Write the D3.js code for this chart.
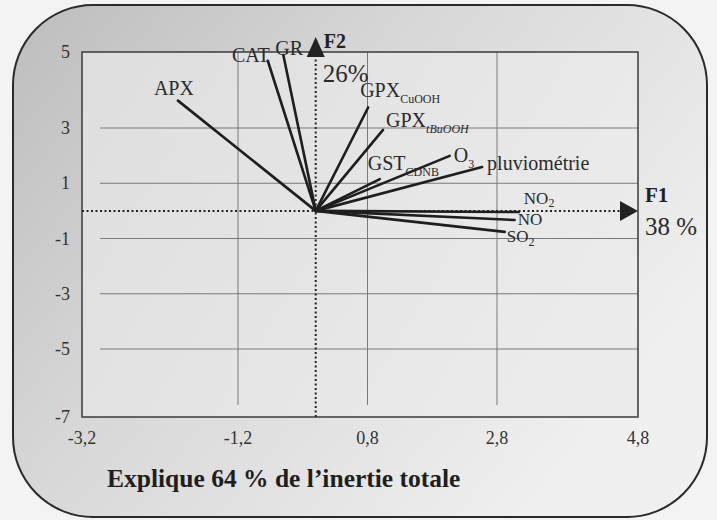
<!DOCTYPE html>
<html lang="fr">
<head>
<meta charset="utf-8">
<title>ACP – cercle des variables F1 × F2</title>
<script src="https://cdn.jsdelivr.net/npm/d3@7"></script>
<style>
  html, body { margin: 0; padding: 0; background: #f3f3f3; }
  svg { display: block; }
  svg text { font-family: "Liberation Serif", "DejaVu Serif", serif; }
</style>
</head>
<body>
<svg id="chart" width="717" height="520"></svg>
<script>
// Variables projected on the first factorial plane (F1, F2)
const variables = ["APX", "CAT", "GR", "GPX_CuOOH", "GPX_tBuOOH", "GST_CDNB", "O3", "pluviométrie", "NO2", "NO", "SO2"];
const coordF1 = [-1.97, -0.74, -0.50, 0.81, 1.04, 0.99, 2.07, 2.57, 3.11, 3.05, 2.91];
const coordF2 = [ 3.72,  4.77,  4.92, 3.54, 2.93, 1.15, 1.99, 1.59, -0.04, -0.33, -0.76];

// Label text: main part and subscript
const labelMain = ["APX", "CAT", "GR", "GPX", "GPX", "GST", "O", "pluviométrie", "NO", "NO", "SO"];
const labelSub  = ["", "", "", "CuOOH", "tBuOOH", "CDNB", "3", "", "2", "", "2"];

// Axis ticks
const xTicks = [-3.2, -1.2, 0.8, 2.8, 4.8];
const yTicks = [5, 3, 1, -1, -3, -5, -7];

// Axis titles
const axisF1 = { name: "F1", share: "38 %" };
const axisF2 = { name: "F2", share: "26%" };
const caption = "Explique 64 % de l\u2019inertie totale";

const svg = d3.select("#chart");
// French decimal comma, plain hyphen for negatives
const fmtX = v => (v < 0 ? "-" : "") + d3.format(".1f")(Math.abs(v)).replace(".", ",");
const fmtY = v => (v < 0 ? "-" : "") + Math.abs(v);

// The outer bands of the frame are slightly wider than the inner grid cells
const x = d3.scaleLinear().domain([-3.2, -1.2, 2.8, 4.8]).range([82, 238, 497, 638]);
const y = d3.scaleLinear().domain([-7, -5, 3, 5]).range([417, 349, 128, 52]);

// Background panel with rounded corners
const defs = svg.append("defs");
const g1 = defs.append("linearGradient").attr("id", "panelFill")
  .attr("x1", 0).attr("y1", 0).attr("x2", 1).attr("y2", 0.6);
g1.append("stop").attr("offset", "0%").attr("stop-color", "#bdbdbd");
g1.append("stop").attr("offset", "45%").attr("stop-color", "#d8d8d8");
g1.append("stop").attr("offset", "100%").attr("stop-color", "#f0f0f0");
const g2 = defs.append("linearGradient").attr("id", "plotFill")
  .attr("x1", 0).attr("y1", 0).attr("x2", 1).attr("y2", 0.4);
g2.append("stop").attr("offset", "0%").attr("stop-color", "#dedede");
g2.append("stop").attr("offset", "100%").attr("stop-color", "#ebebeb");

svg.append("rect")
  .attr("x", 13).attr("y", 5).attr("width", 694).attr("height", 512)
  .attr("rx", 80).attr("ry", 80)
  .attr("fill", "url(#panelFill)")
  .attr("stroke", "#2a2a2a").attr("stroke-width", 2);

// Plot area
const [x0, x1] = [x(xTicks[0]), x(xTicks[xTicks.length - 1])];
const [yTop, yBot] = [y(yTicks[0]), y(yTicks[yTicks.length - 1])];

svg.append("rect")
  .attr("x", x0).attr("y", yTop).attr("width", x1 - x0).attr("height", yBot - yTop)
  .attr("fill", "url(#plotFill)");

// Grid lines
const grid = svg.append("g").attr("stroke", "#7a7a7a").attr("stroke-width", 1);
grid.selectAll("line.gx").data(xTicks.slice(1, -1)).join("line")
  .attr("class", "gx")
  .attr("x1", d => x(d)).attr("x2", d => x(d))
  .attr("y1", yTop).attr("y2", yBot - 12);
grid.selectAll("line.gy").data(yTicks.slice(1, -1)).join("line")
  .attr("class", "gy")
  .attr("x1", x0 + 18).attr("x2", x1)
  .attr("y1", d => y(d)).attr("y2", d => y(d));

svg.append("rect")
  .attr("x", x0).attr("y", yTop).attr("width", x1 - x0).attr("height", yBot - yTop)
  .attr("fill", "none").attr("stroke", "#3a3a3a").attr("stroke-width", 1.5);

// Tick labels
svg.append("g").selectAll("text").data(xTicks).join("text")
  .attr("x", d => x(d)).attr("y", yBot + 27)
  .attr("text-anchor", "middle")
  .attr("font-size", 18).attr("fill", "#333")
  .text(fmtX);

svg.append("g").selectAll("text").data(yTicks).join("text")
  .attr("x", 70).attr("y", d => y(d))
  .attr("dy", "0.34em")
  .attr("text-anchor", "end")
  .attr("font-size", 18).attr("fill", "#333")
  .text(fmtY);

// Factorial axes (dotted) with arrow heads
const ox = x(0), oy = y(0);
svg.append("line")
  .attr("x1", x0).attr("x2", x1 - 16).attr("y1", oy).attr("y2", oy)
  .attr("stroke", "#222").attr("stroke-width", 2).attr("stroke-dasharray", "2,2.5");
svg.append("line")
  .attr("x1", ox).attr("x2", ox).attr("y1", yBot).attr("y2", yTop - 2)
  .attr("stroke", "#222").attr("stroke-width", 2).attr("stroke-dasharray", "2,2.5");

svg.append("path")
  .attr("d", `M${x1},${oy} L${x1 - 18},${oy - 10} L${x1 - 18},${oy + 10} Z`)
  .attr("fill", "#222");
svg.append("path")
  .attr("d", `M${ox},${yTop - 15} L${ox - 9},${yTop + 5} L${ox + 9},${yTop + 5} Z`)
  .attr("fill", "#222");

svg.append("text").attr("x", ox + 8).attr("y", yTop - 4)
  .attr("font-size", 20).attr("font-weight", "bold").attr("fill", "#222")
  .text(axisF2.name);
svg.append("text").attr("x", ox + 7).attr("y", yTop + 30)
  .attr("font-size", 25).attr("fill", "#2a2a2a")
  .text(axisF2.share);
svg.append("text").attr("x", x1 + 7).attr("y", oy - 9)
  .attr("font-size", 21).attr("font-weight", "bold").attr("fill", "#222")
  .text(axisF1.name);
svg.append("text").attr("x", x1 + 7).attr("y", oy + 24)
  .attr("font-size", 25).attr("fill", "#2a2a2a")
  .text(axisF1.share);

// Variable vectors
const vectors = variables.map((name, i) => ({
  name, f1: coordF1[i], f2: coordF2[i], main: labelMain[i], sub: labelSub[i]
}));

svg.append("g").selectAll("line").data(vectors).join("line")
  .attr("x1", ox).attr("y1", oy)
  .attr("x2", d => x(d.f1)).attr("y2", d => y(d.f2))
  .attr("stroke", "#1e1e1e").attr("stroke-width", 2.6)
  .attr("stroke-linecap", "round");

// Label placement relative to each vector tip: [dx, dy, anchor, font size, subscript shift]
const labelPlace = {
  "APX": [-4, -6, "middle", 20, 6],
  "CAT": [2, 1, "end", 20, 6],
  "GR": [-8, 0, "start", 20, 6],
  "GPX_CuOOH": [-8, -10, "start", 20, 6],
  "GPX_tBuOOH": [3, -3, "start", 20, 6],
  "GST_CDNB": [-12, -9, "start", 20, 6],
  "O3": [4, 6, "start", 20, 6],
  "pluviométrie": [5, 3, "start", 20, 6],
  "NO2": [5, -8, "start", 17, 3],
  "NO": [3, 5, "start", 17, 0],
  "SO2": [2, 10, "start", 17, 4]
};

const labels = svg.append("g").attr("fill", "#2a2a2a")
  .selectAll("text").data(vectors).join("text")
  .attr("x", d => x(d.f1) + labelPlace[d.name][0])
  .attr("y", d => y(d.f2) + labelPlace[d.name][1])
  .attr("text-anchor", d => labelPlace[d.name][2])
  .attr("font-size", d => labelPlace[d.name][3]);

labels.append("tspan").text(d => d.main);
labels.filter(d => d.sub).append("tspan")
  .attr("dy", d => labelPlace[d.name][4])
  .attr("font-size", d => d.sub.length > 1 ? 12 : 12)
  .attr("font-style", d => d.sub.startsWith("t") ? "italic" : null)
  .text(d => d.sub);

// Caption
svg.append("text")
  .attr("x", 107).attr("y", 487)
  .attr("font-size", 25.5).attr("font-weight", "bold").attr("fill", "#1e1e1e")
  .text(caption);
</script>
</body>
</html>
